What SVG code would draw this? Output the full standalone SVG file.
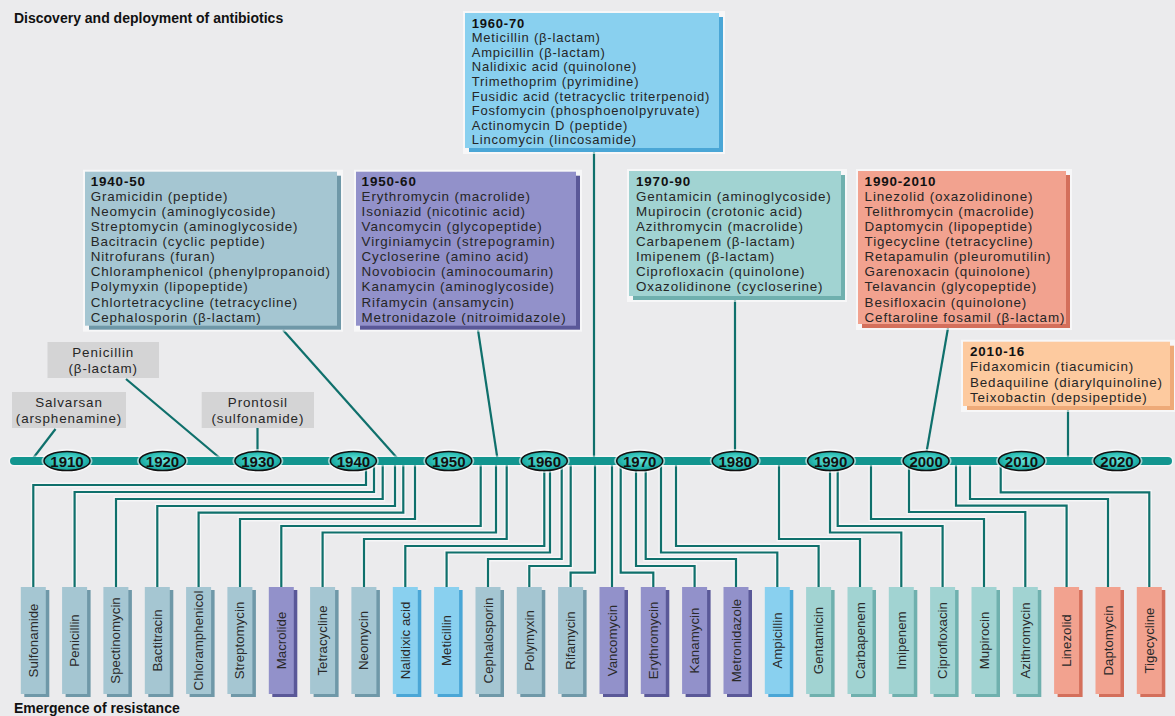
<svg xmlns="http://www.w3.org/2000/svg" width="1175" height="716" viewBox="0 0 1175 716">
<defs>
<style>
.bg{fill:#ebebed}
.t{font-family:"Liberation Sans",Arial,sans-serif;font-size:13.4px;letter-spacing:0.85px;fill:#262626}
.t6{font-size:13px;letter-spacing:0.8px}
.h{font-weight:bold;fill:#111}
.ttl{font-family:"Liberation Sans",Arial,sans-serif;font-size:14px;font-weight:bold;fill:#111}
.gl{font-family:"Liberation Sans",Arial,sans-serif;font-size:13.4px;letter-spacing:0.9px;fill:#262626;text-anchor:middle}
.yr{font-family:"Liberation Sans",Arial,sans-serif;font-size:15px;font-weight:bold;fill:#111;text-anchor:middle}
.bl{font-family:"Liberation Sans",Arial,sans-serif;font-size:13.3px;fill:#2a2a2a;text-anchor:middle}
.conn{stroke:#0f706c;stroke-width:2.2;fill:none}
.halo{stroke:#ffffff;stroke-opacity:.55;stroke-width:5;fill:none}
.gray{fill:#d4d4d5}
.wh{fill:#ffffff;fill-opacity:.6}
.f4050{fill:#a5c6d2}.s4050{fill:#6f98a8}
.f5060{fill:#9291ca}.s5060{fill:#5a5898}
.f6070{fill:#89d0ef}.s6070{fill:#4aa6d6}
.f7090{fill:#a1d3d2}.s7090{fill:#6fb0ae}
.f9010{fill:#f2a28f}.s9010{fill:#d46f5b}
.f1016{fill:#fdca9f}.s1016{fill:#eeaa78}
.ell{fill:url(#yg);stroke:#111;stroke-width:1.5}
.ellh{fill:#ffffff;fill-opacity:.6}
</style>
<radialGradient id="yg" cx="50%" cy="45%" r="60%">
<stop offset="0" stop-color="#6fe6dc"/>
<stop offset="0.6" stop-color="#2bbdb4"/>
<stop offset="1" stop-color="#0e958e"/>
</radialGradient>
</defs>
<rect class="bg" x="0" y="0" width="1175" height="716"/>

<text class="ttl" x="14" y="23">Discovery and deployment of antibiotics</text>
<text class="ttl" x="14" y="712.5">Emergence of resistance</text>

<!-- connectors -->
<g id="connectors">
<g class="conn">
<path d="M55.5 429 L32.5 459"/>
<path d="M126 379 L221 459"/>
<path d="M257.5 428 V455"/>
<path d="M283 330 L398 459"/>
<path d="M478 330 L497.5 459"/>
<path d="M594 152 V459"/>
<path d="M735 300 V455"/>
<path d="M948 328 L926 455"/>
<path d="M1068 410 V459"/>
</g>
<g class="halo">
<path d="M366 465 V485 H33.3 V587"/>
<path d="M374 465 V492 H74.6 V587"/>
<path d="M382.7 465 V499 H116 V587"/>
<path d="M395 465 V506 H157.3 V587"/>
<path d="M403.3 465 V512.7 H198.6 V587"/>
<path d="M415 465 V519 H240 V587"/>
<path d="M480.7 465 V526 H281.3 V587"/>
<path d="M496 465 V532.5 H322.6 V587"/>
<path d="M506.7 465 V539 H364 V587"/>
<path d="M544.3 465 V546 H405.3 V587"/>
<path d="M550 465 V552.5 H446.6 V587"/>
<path d="M561.7 465 V559 H488 V587"/>
<path d="M570.7 465 V566 H529.3 V587"/>
<path d="M595 465 V572.7 H570.6 V587"/>
<path d="M612 465 V587"/>
<path d="M620.7 465 V572.7 H653.3 V587"/>
<path d="M636 465 V566 H694.6 V587"/>
<path d="M645.7 465 V559 H736 V587"/>
<path d="M661 465 V552.5 H777.3 V587"/>
<path d="M676 465 V546 H818.6 V587"/>
<path d="M779 465 V539 H860 V587"/>
<path d="M830 465 V532.5 H901.3 V587"/>
<path d="M837.7 465 V526 H942.6 V587"/>
<path d="M871 465 V519 H984 V587"/>
<path d="M909 465 V512 H1025.3 V587"/>
<path d="M956 465 V505.7 H1066.6 V587"/>
<path d="M970 465 V499 H1108 V587"/>
<path d="M1000.7 465 V492.3 H1149.3 V587"/>
</g>
<g class="conn">
<path d="M366 465 V485 H33.3 V587"/>
<path d="M374 465 V492 H74.6 V587"/>
<path d="M382.7 465 V499 H116 V587"/>
<path d="M395 465 V506 H157.3 V587"/>
<path d="M403.3 465 V512.7 H198.6 V587"/>
<path d="M415 465 V519 H240 V587"/>
<path d="M480.7 465 V526 H281.3 V587"/>
<path d="M496 465 V532.5 H322.6 V587"/>
<path d="M506.7 465 V539 H364 V587"/>
<path d="M544.3 465 V546 H405.3 V587"/>
<path d="M550 465 V552.5 H446.6 V587"/>
<path d="M561.7 465 V559 H488 V587"/>
<path d="M570.7 465 V566 H529.3 V587"/>
<path d="M595 465 V572.7 H570.6 V587"/>
<path d="M612 465 V587"/>
<path d="M620.7 465 V572.7 H653.3 V587"/>
<path d="M636 465 V566 H694.6 V587"/>
<path d="M645.7 465 V559 H736 V587"/>
<path d="M661 465 V552.5 H777.3 V587"/>
<path d="M676 465 V546 H818.6 V587"/>
<path d="M779 465 V539 H860 V587"/>
<path d="M830 465 V532.5 H901.3 V587"/>
<path d="M837.7 465 V526 H942.6 V587"/>
<path d="M871 465 V519 H984 V587"/>
<path d="M909 465 V512 H1025.3 V587"/>
<path d="M956 465 V505.7 H1066.6 V587"/>
<path d="M970 465 V499 H1108 V587"/>
<path d="M1000.7 465 V492.3 H1149.3 V587"/>
</g>
</g>

<!-- timeline -->
<g id="timeline">
<line x1="14" y1="461" x2="1168" y2="461" stroke="#ffffff" stroke-opacity=".5" stroke-width="11" stroke-linecap="round"/>
<line x1="14" y1="461" x2="1168" y2="461" stroke="#12958f" stroke-width="8" stroke-linecap="round"/>
<g id="y1910"><ellipse class="ellh" cx="67" cy="461" rx="25.5" ry="12"/><ellipse class="ell" cx="67" cy="461" rx="23" ry="9.5"/><text class="yr" x="67" y="466.5">1910</text></g>
<g id="y1920"><ellipse class="ellh" cx="162.5" cy="461" rx="25.5" ry="12"/><ellipse class="ell" cx="162.5" cy="461" rx="23" ry="9.5"/><text class="yr" x="162.5" y="466.5">1920</text></g>
<g id="y1930"><ellipse class="ellh" cx="257.9" cy="461" rx="25.5" ry="12"/><ellipse class="ell" cx="257.9" cy="461" rx="23" ry="9.5"/><text class="yr" x="257.9" y="466.5">1930</text></g>
<g id="y1940"><ellipse class="ellh" cx="353.4" cy="461" rx="25.5" ry="12"/><ellipse class="ell" cx="353.4" cy="461" rx="23" ry="9.5"/><text class="yr" x="353.4" y="466.5">1940</text></g>
<g id="y1950"><ellipse class="ellh" cx="448.8" cy="461" rx="25.5" ry="12"/><ellipse class="ell" cx="448.8" cy="461" rx="23" ry="9.5"/><text class="yr" x="448.8" y="466.5">1950</text></g>
<g id="y1960"><ellipse class="ellh" cx="544.3" cy="461" rx="25.5" ry="12"/><ellipse class="ell" cx="544.3" cy="461" rx="23" ry="9.5"/><text class="yr" x="544.3" y="466.5">1960</text></g>
<g id="y1970"><ellipse class="ellh" cx="639.7" cy="461" rx="25.5" ry="12"/><ellipse class="ell" cx="639.7" cy="461" rx="23" ry="9.5"/><text class="yr" x="639.7" y="466.5">1970</text></g>
<g id="y1980"><ellipse class="ellh" cx="735.2" cy="461" rx="25.5" ry="12"/><ellipse class="ell" cx="735.2" cy="461" rx="23" ry="9.5"/><text class="yr" x="735.2" y="466.5">1980</text></g>
<g id="y1990"><ellipse class="ellh" cx="830.6" cy="461" rx="25.5" ry="12"/><ellipse class="ell" cx="830.6" cy="461" rx="23" ry="9.5"/><text class="yr" x="830.6" y="466.5">1990</text></g>
<g id="y2000"><ellipse class="ellh" cx="926.1" cy="461" rx="25.5" ry="12"/><ellipse class="ell" cx="926.1" cy="461" rx="23" ry="9.5"/><text class="yr" x="926.1" y="466.5">2000</text></g>
<g id="y2010"><ellipse class="ellh" cx="1021.5" cy="461" rx="25.5" ry="12"/><ellipse class="ell" cx="1021.5" cy="461" rx="23" ry="9.5"/><text class="yr" x="1021.5" y="466.5">2010</text></g>
<g id="y2020"><ellipse class="ellh" cx="1117" cy="461" rx="25.5" ry="12"/><ellipse class="ell" cx="1117" cy="461" rx="23" ry="9.5"/><text class="yr" x="1117" y="466.5">2020</text></g>
</g>

<!-- early discoveries -->
<g id="salvarsan"><rect class="gray" x="12" y="392" width="114" height="36"/><text class="gl" x="69" y="406.5">Salvarsan</text><text class="gl" x="69" y="422.5">(arsphenamine)</text></g>
<g id="penicillin"><rect class="gray" x="47.5" y="342" width="111.5" height="36"/><text class="gl" x="103.2" y="356.5">Penicillin</text><text class="gl" x="103.2" y="372.5">(β-lactam)</text></g>
<g id="prontosil"><rect class="gray" x="201.7" y="392" width="112.3" height="36"/><text class="gl" x="257.9" y="406.5">Prontosil</text><text class="gl" x="257.9" y="422.5">(sulfonamide)</text></g>

<!-- era boxes -->
<g id="box1940">
<rect class="wh" x="83" y="169.7" width="260" height="162"/>
<rect class="s4050" x="89" y="175.7" width="252" height="154"/>
<rect class="f4050" x="85" y="171.7" width="252" height="154"/>
<text class="t" x="90.7"><tspan class="h" y="185.7">1940-50</tspan><tspan x="90.7" y="200.8">Gramicidin (peptide)</tspan><tspan x="90.7" y="215.9">Neomycin (aminoglycoside)</tspan><tspan x="90.7" y="231">Streptomycin (aminoglycoside)</tspan><tspan x="90.7" y="246.1">Bacitracin (cyclic peptide)</tspan><tspan x="90.7" y="261.2">Nitrofurans (furan)</tspan><tspan x="90.7" y="276.3">Chloramphenicol (phenylpropanoid)</tspan><tspan x="90.7" y="291.4">Polymyxin (lipopeptide)</tspan><tspan x="90.7" y="306.5">Chlortetracycline (tetracycline)</tspan><tspan x="90.7" y="321.6">Cephalosporin (β-lactam)</tspan></text>
</g>
<g id="box1950">
<rect class="wh" x="354" y="169.7" width="228" height="162"/>
<rect class="s5060" x="360" y="175.7" width="220" height="154"/>
<rect class="f5060" x="356" y="171.7" width="220" height="154"/>
<text class="t" x="361.6"><tspan class="h" y="185.7">1950-60</tspan><tspan x="361.6" y="200.8">Erythromycin (macrolide)</tspan><tspan x="361.6" y="215.9">Isoniazid (nicotinic acid)</tspan><tspan x="361.6" y="231">Vancomycin (glycopeptide)</tspan><tspan x="361.6" y="246.1">Virginiamycin (strepogramin)</tspan><tspan x="361.6" y="261.2">Cycloserine (amino acid)</tspan><tspan x="361.6" y="276.3">Novobiocin (aminocoumarin)</tspan><tspan x="361.6" y="291.4">Kanamycin (aminoglycoside)</tspan><tspan x="361.6" y="306.5">Rifamycin (ansamycin)</tspan><tspan x="361.6" y="321.6">Metronidazole (nitroimidazole)</tspan></text>
</g>
<g id="box1960">
<rect class="wh" x="463" y="11" width="262" height="143"/>
<rect class="s6070" x="469" y="17" width="254" height="135"/>
<rect class="f6070" x="465" y="13" width="254" height="135"/>
<text class="t t6" x="471.7"><tspan class="h" y="27.6">1960-70</tspan><tspan x="471.7" y="42.2">Meticillin (β-lactam)</tspan><tspan x="471.7" y="56.8">Ampicillin (β-lactam)</tspan><tspan x="471.7" y="71.4">Nalidixic acid (quinolone)</tspan><tspan x="471.7" y="86">Trimethoprim (pyrimidine)</tspan><tspan x="471.7" y="100.6">Fusidic acid (tetracyclic triterpenoid)</tspan><tspan x="471.7" y="115.2">Fosfomycin (phosphoenolpyruvate)</tspan><tspan x="471.7" y="129.8">Actinomycin D (peptide)</tspan><tspan x="471.7" y="144.4">Lincomycin (lincosamide)</tspan></text>
</g>
<g id="box1970">
<rect class="wh" x="627" y="169" width="220" height="133"/>
<rect class="s7090" x="633" y="175" width="212" height="125"/>
<rect class="f7090" x="629" y="171" width="212" height="125"/>
<text class="t" x="636"><tspan class="h" y="185.7">1970-90</tspan><tspan x="636" y="200.8">Gentamicin (aminoglycoside)</tspan><tspan x="636" y="215.9">Mupirocin (crotonic acid)</tspan><tspan x="636" y="231">Azithromycin (macrolide)</tspan><tspan x="636" y="246.1">Carbapenem (β-lactam)</tspan><tspan x="636" y="261.2">Imipenem (β-lactam)</tspan><tspan x="636" y="276.3">Ciprofloxacin (quinolone)</tspan><tspan x="636" y="291.4">Oxazolidinone (cycloserine)</tspan></text>
</g>
<g id="box1990">
<rect class="wh" x="856" y="169" width="216" height="161"/>
<rect class="s9010" x="862" y="175" width="208" height="153"/>
<rect class="f9010" x="858" y="171" width="208" height="153"/>
<text class="t" x="864.6"><tspan class="h" y="185.7">1990-2010</tspan><tspan x="864.6" y="200.8">Linezolid (oxazolidinone)</tspan><tspan x="864.6" y="215.9">Telithromycin (macrolide)</tspan><tspan x="864.6" y="231">Daptomycin (lipopeptide)</tspan><tspan x="864.6" y="246.1">Tigecycline (tetracycline)</tspan><tspan x="864.6" y="261.2">Retapamulin (pleuromutilin)</tspan><tspan x="864.6" y="276.3">Garenoxacin (quinolone)</tspan><tspan x="864.6" y="291.4">Telavancin (glycopeptide)</tspan><tspan x="864.6" y="306.5">Besifloxacin (quinolone)</tspan><tspan x="864.6" y="321.6">Ceftaroline fosamil (β-lactam)</tspan></text>
</g>
<g id="box2010">
<rect class="wh" x="961" y="339.7" width="214" height="72.3"/>
<rect class="s1016" x="967" y="345.7" width="207" height="64.3"/>
<rect class="f1016" x="963" y="341.7" width="207" height="64.3"/>
<text class="t" x="970"><tspan class="h" y="356.3">2010-16</tspan><tspan x="970" y="371.4">Fidaxomicin (tiacumicin)</tspan><tspan x="970" y="386.5">Bedaquiline (diarylquinoline)</tspan><tspan x="970" y="401.6">Teixobactin (depsipeptide)</tspan></text>
</g>

<!-- resistance bars -->
<g id="bars">
<g id="b-sulfonamide"><rect class="s4050" x="24.3" y="590" width="25" height="107"/><rect class="f4050" x="20.8" y="587" width="25" height="107"/><text class="bl" transform="translate(37.8 640.5) rotate(-90)">Sulfonamide</text></g>
<g id="b-penicillin"><rect class="s4050" x="65.6" y="590" width="25" height="107"/><rect class="f4050" x="62.1" y="587" width="25" height="107"/><text class="bl" transform="translate(79.1 640.5) rotate(-90)">Penicillin</text></g>
<g id="b-spectinomycin"><rect class="s4050" x="106.9" y="590" width="25" height="107"/><rect class="f4050" x="103.4" y="587" width="25" height="107"/><text class="bl" transform="translate(120.4 640.5) rotate(-90)">Spectinomycin</text></g>
<g id="b-bactitracin"><rect class="s4050" x="148.3" y="590" width="25" height="107"/><rect class="f4050" x="144.8" y="587" width="25" height="107"/><text class="bl" transform="translate(161.8 640.5) rotate(-90)">Bactitracin</text></g>
<g id="b-chloramphenicol"><rect class="s4050" x="189.6" y="590" width="25" height="107"/><rect class="f4050" x="186.1" y="587" width="25" height="107"/><text class="bl" transform="translate(203.1 640.5) rotate(-90)">Chloramphenicol</text></g>
<g id="b-streptomycin"><rect class="s4050" x="230.9" y="590" width="25" height="107"/><rect class="f4050" x="227.4" y="587" width="25" height="107"/><text class="bl" transform="translate(244.4 640.5) rotate(-90)">Streptomycin</text></g>
<g id="b-macrolide"><rect class="s5060" x="272.3" y="590" width="25" height="107"/><rect class="f5060" x="268.8" y="587" width="25" height="107"/><text class="bl" transform="translate(285.8 640.5) rotate(-90)">Macrolide</text></g>
<g id="b-tetracycline"><rect class="s4050" x="313.6" y="590" width="25" height="107"/><rect class="f4050" x="310.1" y="587" width="25" height="107"/><text class="bl" transform="translate(327.1 640.5) rotate(-90)">Tetracycline</text></g>
<g id="b-neomycin"><rect class="s4050" x="354.9" y="590" width="25" height="107"/><rect class="f4050" x="351.4" y="587" width="25" height="107"/><text class="bl" transform="translate(368.4 640.5) rotate(-90)">Neomycin</text></g>
<g id="b-nalidixic"><rect class="s6070" x="396.3" y="590" width="25" height="107"/><rect class="f6070" x="392.8" y="587" width="25" height="107"/><text class="bl" transform="translate(409.8 640.5) rotate(-90)">Nalidixic acid</text></g>
<g id="b-meticillin"><rect class="s6070" x="437.6" y="590" width="25" height="107"/><rect class="f6070" x="434.1" y="587" width="25" height="107"/><text class="bl" transform="translate(451.1 640.5) rotate(-90)">Meticillin</text></g>
<g id="b-cephalosporin"><rect class="s4050" x="479" y="590" width="25" height="107"/><rect class="f4050" x="475.5" y="587" width="25" height="107"/><text class="bl" transform="translate(492.5 640.5) rotate(-90)">Cephalosporin</text></g>
<g id="b-polymyxin"><rect class="s4050" x="520.3" y="590" width="25" height="107"/><rect class="f4050" x="516.8" y="587" width="25" height="107"/><text class="bl" transform="translate(533.8 640.5) rotate(-90)">Polymyxin</text></g>
<g id="b-rifamycin"><rect class="s4050" x="561.6" y="590" width="25" height="107"/><rect class="f4050" x="558.1" y="587" width="25" height="107"/><text class="bl" transform="translate(575.1 640.5) rotate(-90)">Rifamycin</text></g>
<g id="b-vancomycin"><rect class="s5060" x="603" y="590" width="25" height="107"/><rect class="f5060" x="599.5" y="587" width="25" height="107"/><text class="bl" transform="translate(616.5 640.5) rotate(-90)">Vancomycin</text></g>
<g id="b-erythromycin"><rect class="s5060" x="644.3" y="590" width="25" height="107"/><rect class="f5060" x="640.8" y="587" width="25" height="107"/><text class="bl" transform="translate(657.8 640.5) rotate(-90)">Erythromycin</text></g>
<g id="b-kanamycin"><rect class="s5060" x="685.6" y="590" width="25" height="107"/><rect class="f5060" x="682.1" y="587" width="25" height="107"/><text class="bl" transform="translate(699.1 640.5) rotate(-90)">Kanamycin</text></g>
<g id="b-metronidazole"><rect class="s5060" x="727" y="590" width="25" height="107"/><rect class="f5060" x="723.5" y="587" width="25" height="107"/><text class="bl" transform="translate(740.5 640.5) rotate(-90)">Metronidazole</text></g>
<g id="b-ampicillin"><rect class="s6070" x="768.3" y="590" width="25" height="107"/><rect class="f6070" x="764.8" y="587" width="25" height="107"/><text class="bl" transform="translate(781.8 640.5) rotate(-90)">Ampicillin</text></g>
<g id="b-gentamicin"><rect class="s7090" x="809.6" y="590" width="25" height="107"/><rect class="f7090" x="806.1" y="587" width="25" height="107"/><text class="bl" transform="translate(823.1 640.5) rotate(-90)">Gentamicin</text></g>
<g id="b-carbapenem"><rect class="s7090" x="851" y="590" width="25" height="107"/><rect class="f7090" x="847.5" y="587" width="25" height="107"/><text class="bl" transform="translate(864.5 640.5) rotate(-90)">Carbapenem</text></g>
<g id="b-imipenem"><rect class="s7090" x="892.3" y="590" width="25" height="107"/><rect class="f7090" x="888.8" y="587" width="25" height="107"/><text class="bl" transform="translate(905.8 640.5) rotate(-90)">Imipenem</text></g>
<g id="b-ciprofloxacin"><rect class="s7090" x="933.6" y="590" width="25" height="107"/><rect class="f7090" x="930.1" y="587" width="25" height="107"/><text class="bl" transform="translate(947.1 640.5) rotate(-90)">Ciprofloxacin</text></g>
<g id="b-mupirocin"><rect class="s7090" x="975" y="590" width="25" height="107"/><rect class="f7090" x="971.5" y="587" width="25" height="107"/><text class="bl" transform="translate(988.5 640.5) rotate(-90)">Mupirocin</text></g>
<g id="b-azithromycin"><rect class="s7090" x="1016.3" y="590" width="25" height="107"/><rect class="f7090" x="1012.8" y="587" width="25" height="107"/><text class="bl" transform="translate(1029.8 640.5) rotate(-90)">Azithromycin</text></g>
<g id="b-linezolid"><rect class="s9010" x="1057.6" y="590" width="25" height="107"/><rect class="f9010" x="1054.1" y="587" width="25" height="107"/><text class="bl" transform="translate(1071.1 640.5) rotate(-90)">Linezolid</text></g>
<g id="b-daptomycin"><rect class="s9010" x="1099" y="590" width="25" height="107"/><rect class="f9010" x="1095.5" y="587" width="25" height="107"/><text class="bl" transform="translate(1112.5 640.5) rotate(-90)">Daptomycin</text></g>
<g id="b-tigecycline"><rect class="s9010" x="1140.3" y="590" width="25" height="107"/><rect class="f9010" x="1136.8" y="587" width="25" height="107"/><text class="bl" transform="translate(1153.8 640.5) rotate(-90)">Tigecycline</text></g>
</g>
</svg>
